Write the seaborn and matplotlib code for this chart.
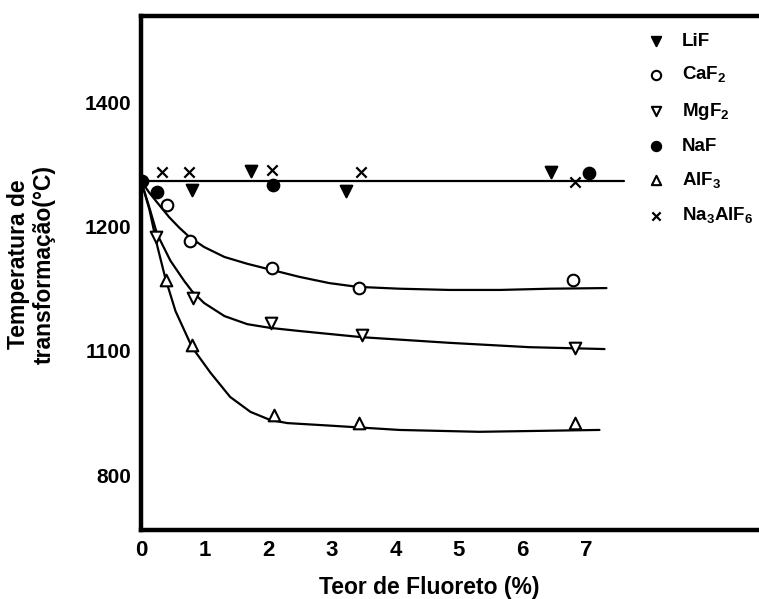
import numpy as np
import pandas as pd
import seaborn as sns
import matplotlib.pyplot as plt

# pontos medidos (teor de fluoreto %, temperatura)
lif_x = [0.80, 1.72, 3.23, 6.44]
lif_y = [1259, 1289, 1257, 1288]
caf2_x = [0.41, 0.77, 2.06, 3.42, 6.80]
caf2_y = [1234, 1177, 1133, 1101, 1114]
mgf2_x = [0.24, 0.82, 2.05, 3.48, 6.83]
mgf2_y = [1183, 1085, 1045, 1026, 1005]
naf_x = [0.02, 0.25, 2.08, 7.04]
naf_y = [1273, 1255, 1267, 1286]
alf3_x = [0.39, 0.80, 2.09, 3.42, 6.83]
alf3_y = [1114, 1010, 897, 884, 884]
na3alf6_x = [0.33, 0.76, 2.06, 3.46, 6.83]
na3alf6_y = [1288, 1288, 1291, 1288, 1271]

# curvas ajustadas
flat_x = [0.0, 7.6]
flat_y = [1273, 1273]
caf2_cx = [0.0, 0.13, 0.28, 0.44, 0.60, 0.76, 0.99, 1.31, 1.67, 2.06, 2.49, 2.96,
           3.40, 4.06, 4.85, 5.64, 6.43, 7.32]
caf2_cy = [1273, 1254, 1235, 1215, 1198, 1183, 1167, 1151, 1140, 1130, 1119, 1109,
           1103, 1100, 1098, 1098, 1100, 1101]
mgf2_cx = [0.0, 0.13, 0.25, 0.46, 0.68, 0.80, 0.99, 1.31, 1.67, 2.03, 2.49, 3.48,
           4.85, 6.11, 7.29]
mgf2_cy = [1273, 1230, 1188, 1145, 1112, 1096, 1077, 1056, 1043, 1037, 1032, 1022,
           1013, 1006, 1003]
alf3_cx = [0.0, 0.13, 0.25, 0.38, 0.54, 0.80, 1.09, 1.40, 1.72, 2.03, 2.30, 2.96,
           4.06, 5.32, 7.21]
alf3_cy = [1273, 1227, 1170, 1117, 1064, 1006, 965, 926, 902, 889, 884, 880,
           873, 870, 873]

x_ticks = [0, 1, 2, 3, 4, 5, 6, 7]
y_ticks = [800, 1000, 1200, 1400]
y_labels = ["800", "1100", "1200", "1400"]

sns.set_style("white")
plt.rcParams["font.family"] = ["Liberation Sans", "DejaVu Sans"]
plt.rcParams["mathtext.fontset"] = "custom"
plt.rcParams["mathtext.rm"] = "Liberation Sans:bold"
plt.rcParams["mathtext.bf"] = "Liberation Sans:bold"
for key in ["text.color", "axes.labelcolor", "xtick.color", "ytick.color"]:
    plt.rcParams[key] = "black"

fig = plt.figure(figsize=(7.59, 5.99), dpi=100)
ax = fig.add_axes([0.186, 0.115, 0.814, 0.858])

for cx, cy in [(flat_x, flat_y), (caf2_cx, caf2_cy), (mgf2_cx, mgf2_cy), (alf3_cx, alf3_cy)]:
    sns.lineplot(x=cx, y=cy, ax=ax, color="black", linewidth=1.6, sort=False)

series = [
    ("LiF", lif_x, lif_y, "v", "black"),
    ("CaF$_{\\mathbf{2}}$", caf2_x, caf2_y, "o", "white"),
    ("MgF$_{\\mathbf{2}}$", mgf2_x, mgf2_y, "v", "white"),
    ("NaF", naf_x, naf_y, "o", "black"),
    ("AlF$_{\\mathbf{3}}$", alf3_x, alf3_y, "^", "white"),
    ("Na$_{\\mathbf{3}}$AlF$_{\\mathbf{6}}$", na3alf6_x, na3alf6_y, "x", "black"),
]
for name, sx, sy, mk, fc in series:
    if mk == "x":
        sns.scatterplot(x=sx, y=sy, ax=ax, marker="x", color="black", s=55,
                        linewidth=1.6, label=name, zorder=3)
    else:
        sns.scatterplot(x=sx, y=sy, ax=ax, marker=mk, facecolor=fc, edgecolor="black",
                        s=70, linewidth=1.5, label=name, zorder=3)

ax.set_xlim(0, 9.72)
ax.set_ylim(712, 1538)
ax.set_xticks(x_ticks)
ax.set_yticks(y_ticks)
ax.set_yticklabels(y_labels)
ax.tick_params(direction="in", length=10, width=2.5, pad=7, colors="black")
ax.tick_params(axis="x", labelsize=16)
ax.tick_params(axis="y", labelsize=15)
for lab in ax.get_xticklabels() + ax.get_yticklabels():
    lab.set_fontweight("bold")

for side in ["left", "top", "bottom"]:
    ax.spines[side].set_linewidth(3.2)
    ax.spines[side].set_color("black")
ax.spines["right"].set_visible(False)

ax.set_xlabel("Teor de Fluoreto (%)", fontsize=16.5, fontweight="bold")
ax.set_ylabel("Temperatura de\ntransformação(°C)", fontsize=16.5, fontweight="bold")
ax.xaxis.set_label_coords(0.466, -0.0895)
ax.yaxis.set_label_coords(-0.1375, 0.517)

leg = ax.legend(loc="upper left", bbox_to_anchor=(0.817, 0.974), bbox_transform=fig.transFigure,
                frameon=False, fontsize=13.5, labelspacing=0.83, handletextpad=0.4,
                markerscale=0.8)
for t in leg.get_texts():
    t.set_fontweight("bold")
    t.set_color("black")

fig.savefig("out.png", dpi=100)
